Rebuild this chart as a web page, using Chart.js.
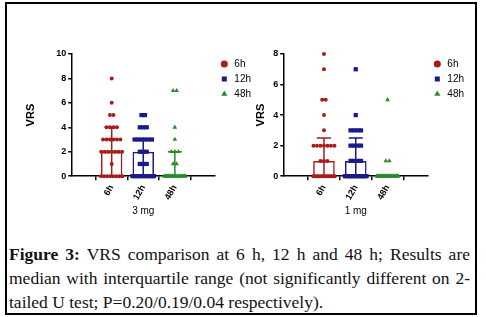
<!DOCTYPE html>
<html>
<head>
<meta charset="utf-8">
<script src="https://cdn.jsdelivr.net/npm/chart.js@4.4.0/dist/chart.umd.min.js"></script>
<style>
  body { margin: 0; width: 486px; height: 317px; background: #fff; position: relative; overflow: hidden; font-family: "Liberation Sans", Arial, sans-serif; }
  #frame { position: absolute; left: 5px; top: 2px; width: 468px; height: 309px; border: 2px solid #000; }
  .box { position: absolute; top: 40px; height: 185px; }
  #box1 { left: 6px; width: 255px; }
  #box2 { left: 243px; width: 231px; }
  #caption { position: absolute; left: 9px; top: 243px; width: 461px; font-family: "Liberation Serif", "Times New Roman", serif; font-size: 17.5px; line-height: 23.8px; color: #111; }
  #caption div { white-space: nowrap; }
  #caption .j { text-align: justify; text-align-last: justify; white-space: normal; }
</style>
</head>
<body>
<div id="frame"></div>
<div class="box" id="box1"><canvas id="chart3mg"></canvas></div>
<div class="box" id="box2"><canvas id="chart1mg"></canvas></div>
<div id="caption">
  <div class="j"><b>Figure 3:</b> VRS comparison at 6 h, 12 h and 48 h; Results are</div>
  <div class="j">median with interquartile range (not significantly different on 2-</div>
  <div>tailed U test; P=0.20/0.19/0.04 respectively).</div>
</div>
<script>
const groups = ['6h', '12h', '48h'];
const colors = ['#a81c1c', '#1a1a8c', '#2a8a2a'];

// individual VRS scores
const vrs3mg6h = [8, 6, 5, 5, 4, 4, 4, 4, 3, 3, 3, 3, 3, 3, 2, 2, 2, 2, 2, 2, 2, 1, 0, 0, 0, 0, 0, 0, 0, 0];
const vrs3mg12h = [5, 5, 4, 4, 4, 3, 3, 3, 3, 3, 3, 2, 2, 2, 1, 1, 1, 0, 0, 0, 0, 0, 0, 0, 0, 0];
const vrs3mg48h = [7, 7, 4, 3, 2, 2, 2, 1, 1, 0, 0, 0, 0, 0, 0, 0, 0, 0, 0, 0, 0, 0, 0, 0, 0, 0, 0, 0, 0, 0];
const vrs1mg6h = [8, 7, 5, 5, 4, 3, 2, 2, 2, 2, 2, 2, 2, 1, 1, 1, 0, 0, 0, 0, 0, 0, 0, 0, 0, 0, 0, 0, 0, 0];
const vrs1mg12h = [7, 4, 3, 3, 3, 3, 2, 2, 2, 2, 1, 1, 1, 1, 0, 0, 0, 0, 0, 0, 0, 0, 0, 0, 0, 0];
const vrs1mg48h = [5, 1, 1, 0, 0, 0, 0, 0, 0, 0, 0, 0, 0, 0, 0, 0, 0, 0, 0, 0, 0, 0, 0, 0, 0, 0, 0, 0, 0, 0];

// median with interquartile range, per group
const median3mg = [2, 2, 0];
const q1_3mg = [0, 0, 0];
const q3_3mg = [4, 3, 2];
const median1mg = [1, 1, 0];
const q1_1mg = [0, 0, 0];
const q3_1mg = [2.5, 2.5, 0];

// spread equal values side by side like a scatter dot plot
function dotPoints(values, xIndex) {
  const counts = {};
  values.forEach(v => counts[v] = (counts[v] || 0) + 1);
  const pts = [];
  Object.keys(counts).forEach(k => {
    const n = counts[k];
    const step = n > 1 ? Math.min(0.11, 0.68 / (n - 1)) : 0;
    for (let i = 0; i < n; i++) {
      pts.push({x: xIndex + (i - (n - 1) / 2) * step, y: +k});
    }
  });
  return pts;
}

const errorBars = {
  id: 'errorBars',
  beforeDatasetsDraw(chart, args, opts) {
    const {ctx, scales: {x, y}} = chart;
    ctx.save();
    ctx.lineWidth = 1.5;
    opts.q3.forEach((hi, i) => {
      const cx = x.getPixelForValue(i);
      const top = y.getPixelForValue(hi);
      const bot = y.getPixelForValue(opts.q1[i]);
      ctx.strokeStyle = colors[i];
      ctx.beginPath();
      ctx.moveTo(cx, bot); ctx.lineTo(cx, top);
      ctx.moveTo(cx - 7, top); ctx.lineTo(cx + 7, top);
      ctx.moveTo(cx - 7, bot); ctx.lineTo(cx + 7, bot);
      ctx.stroke();
    });
    ctx.restore();
  }
};

function makeChart(id, title, series, median, q1, q3, yMax, titlePad, padLeft) {
  const styles = ['circle', 'rect', 'triangle'];
  const radii = [2.0, 3.0, 2.7];
  const datasets = series.map((vals, i) => ({
    type: 'scatter',
    label: groups[i],
    data: dotPoints(vals, i),
    pointStyle: styles[i],
    radius: radii[i],
    backgroundColor: colors[i],
    borderColor: colors[i],
    borderWidth: 0,
    clip: false
  }));
  datasets.push({
    type: 'bar',
    label: '',
    data: median.map((m, i) => ({x: i, y: m})),
    backgroundColor: 'rgba(0,0,0,0)',
    borderColor: colors,
    borderWidth: 1.5,
    barPercentage: 0.68,
    categoryPercentage: 1
  });

  return new Chart(document.getElementById(id), {
    data: {datasets},
    options: {
      responsive: true,
      maintainAspectRatio: false,
      animation: false,
      layout: {padding: {top: 14, right: 0, bottom: 4, left: padLeft}},
      scales: {
        x: {
          type: 'linear',
          min: -0.5,
          max: 2.5,
          afterBuildTicks: axis => { axis.ticks = groups.map((g, i) => ({value: i})); },
          ticks: {
            callback: v => groups[v],
            minRotation: 60,
            maxRotation: 60,
            color: '#000',
            font: {family: 'Liberation Sans', size: 9, weight: 'bold'}
          },
          grid: {drawOnChartArea: false, drawTicks: true, tickLength: 4, color: '#000', lineWidth: 1.5},
          border: {color: '#000', width: 1.5},
          title: {display: true, text: title, color: '#000', font: {family: 'Liberation Sans', size: 10}, padding: {top: 0}}
        },
        y: {
          min: 0,
          max: yMax,
          ticks: {stepSize: 2, color: '#000', padding: 2, font: {family: 'Liberation Sans', size: 9, weight: 'bold'}},
          grid: {drawOnChartArea: false, drawTicks: true, tickLength: 4, color: '#000', lineWidth: 1.5},
          border: {color: '#000', width: 1.5},
          title: {display: true, text: 'VRS', color: '#000', font: {family: 'Liberation Sans', size: 11, weight: 'bold'}, padding: titlePad}
        }
      },
      plugins: {
        legend: {
          position: 'right',
          align: 'start',
          labels: {
            usePointStyle: true,
            boxHeight: 5,
            padding: 5,
            color: '#000',
            font: {family: 'Liberation Sans', size: 10},
            filter: item => item.text !== ''
          }
        },
        tooltip: {enabled: false},
        errorBars: {q1, q3}
      }
    },
    plugins: [errorBars]
  });
}

makeChart('chart3mg', '3 mg', [vrs3mg6h, vrs3mg12h, vrs3mg48h], median3mg, q1_3mg, q3_3mg, 10, {top: 0, bottom: 17}, 18);
makeChart('chart1mg', '1 mg', [vrs1mg6h, vrs1mg12h, vrs1mg48h], median1mg, q1_1mg, q3_1mg, 8, {top: 0, bottom: 4}, 11);
</script>
</body>
</html>
